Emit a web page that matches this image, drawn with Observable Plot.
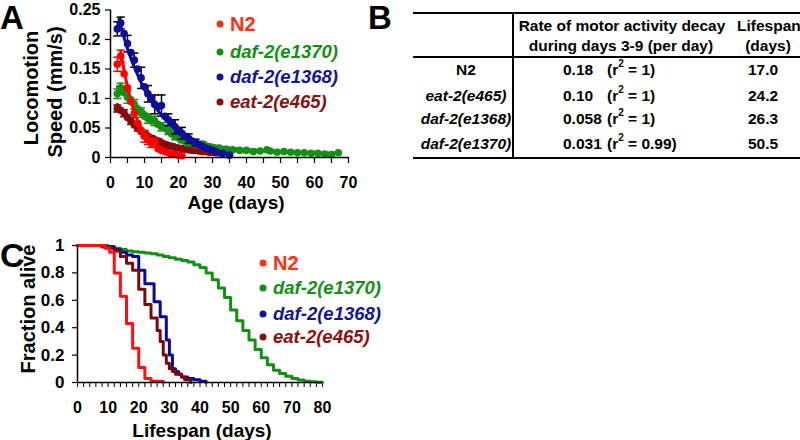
<!DOCTYPE html>
<html><head><meta charset="utf-8">
<script src="https://cdn.jsdelivr.net/npm/d3@7"></script>
<script src="https://cdn.jsdelivr.net/npm/@observablehq/plot@0.6"></script>
<style>
body{margin:0;background:#fff;}
#fig{position:relative;width:800px;height:440px;overflow:hidden;background:#fff;font-family:"Liberation Sans",Arial,sans-serif;font-weight:bold;color:#000;}
.panel{position:absolute;}
#overlay{position:absolute;left:0;top:0;pointer-events:none;}
.leg{position:absolute;white-space:nowrap;line-height:1;transform:translateY(-50%);}
.dot{position:absolute;width:7px;height:7px;border-radius:50%;transform:translate(-50%,-50%);}
</style></head><body><div id="fig"></div>
<script>
// ---------- Panel A data: locomotion speed (mm/s) vs age (days) ----------
const ageN2   = [2,3,4,5,6,7,8,9,10,11,12,13,14,15,16,17,18,19,20,21];
const speedN2 = [0.158,0.172,0.142,0.118,0.095,0.075,0.058,0.046,0.036,0.030,0.024,0.026,0.015,0.012,0.010,0.008,0.006,0.005,0.004,0.003];
const fitAgeN2 = [3,4,5,6,7,8,9,10,12,14,16,18,21];
const fitN2    = [0.180,0.148,0.120,0.097,0.078,0.062,0.050,0.040,0.026,0.017,0.011,0.007,0.004];
const errAgeN2 = [2,3,10,11,12,13];
const errN2    = [0.012,0.010,0.010,0.008,0.007,0.006];

const ageE1370   = [2,3,4,5,6,7,8,9,10,11,12,13,14,15,16,17,18,19,20,21,22,23,24,25,26,27,28,29,30,32,34,36,38,40,42,44,46,47,49,51,53,55,57,59,61,63,65,67];
const speedE1370 = [0.108,0.118,0.110,0.102,0.098,0.090,0.082,0.076,0.070,0.066,0.062,0.062,0.056,0.052,0.050,0.045,0.040,0.036,0.033,0.030,0.027,0.025,0.024,0.022,0.021,0.023,0.019,0.018,0.017,0.016,0.014,0.013,0.012,0.012,0.010,0.011,0.013,0.011,0.009,0.010,0.009,0.008,0.008,0.007,0.007,0.006,0.005,0.008];
const fitAgeE1370 = [2,4,6,8,10,12,14,16,18,20,23,26,30,35,40,50,60,67];
const fitE1370    = [0.120,0.108,0.097,0.087,0.077,0.068,0.060,0.052,0.045,0.039,0.032,0.026,0.021,0.016,0.013,0.010,0.008,0.007];
const errAgeE1370 = [2,3,5,7,9,11,13,15,17,19,21,23,25,27];
const errE1370    = [0.008,0.008,0.010,0.008,0.008,0.008,0.008,0.007,0.006,0.006,0.005,0.005,0.004,0.004];

const ageE1368   = [2,3,4,5,6,7,8,9,10,11,12,13,14,15,16,17,18,19,20,21,22,23,24,25,26,27,28,29,30,31,33,35];
const speedE1368 = [0.218,0.228,0.210,0.193,0.178,0.165,0.150,0.135,0.120,0.108,0.100,0.090,0.086,0.088,0.070,0.064,0.058,0.052,0.046,0.041,0.036,0.032,0.028,0.025,0.022,0.019,0.016,0.014,0.012,0.010,0.007,0.004];
const fitAgeE1368 = [2.5,4,6,8,10,12,14,16,18,20,22,25,28,31,35];
const fitE1368    = [0.235,0.203,0.168,0.140,0.115,0.095,0.079,0.065,0.054,0.045,0.037,0.027,0.018,0.012,0.005];
const errAgeE1368 = [2,3,5,7,9,11,13,15,17,19,21,23,25];
const errE1368    = [0.012,0.010,0.014,0.012,0.018,0.014,0.016,0.018,0.010,0.012,0.010,0.008,0.006];

const ageE465   = [2,3,4,5,6,7,8,9,10,11,12,13,14,15,16,17,18,19,20,21,22,23,24,25,26,27,28,29,30,31,32,33];
const speedE465 = [0.083,0.080,0.075,0.068,0.062,0.055,0.050,0.044,0.040,0.035,0.032,0.030,0.028,0.025,0.022,0.020,0.019,0.017,0.016,0.015,0.014,0.013,0.012,0.012,0.011,0.010,0.010,0.009,0.009,0.008,0.008,0.007];
const fitAgeE465 = [2,4,6,8,10,12,14,16,18,20,22,25,28,33];
const fitE465    = [0.090,0.077,0.065,0.054,0.045,0.037,0.031,0.026,0.022,0.018,0.016,0.013,0.011,0.008];
const errAgeE465 = [2,4,6,8,10,12,14,16,18,20];
const errE465    = [0.006,0.006,0.006,0.005,0.005,0.005,0.004,0.004,0.004,0.003];

const yTicksA = [0,0.05,0.1,0.15,0.2,0.25];
const xLabelsA = [0,10,20,30,40,50,60,70];

// ---------- Panel B data: table ----------
const strains   = ["N2","eat-2(e465)","daf-2(e1368)","daf-2(e1370)"];
const decayRate = ["0.18","0.10","0.058","0.031"];
const rSquared  = ["1","1","1","0.99"];
const lifespans = ["17.0","24.2","26.3","50.5"];

// ---------- Panel C data: survival (fraction alive vs lifespan days) ----------
const dayN2   = [0,9,10.5,12,14,16,18,20,22,24,28];
const fracN2  = [1,0.98,0.95,0.80,0.63,0.43,0.25,0.11,0.03,0.01,0];
const dayS1368  = [0,8,12,14,16,18,20,22,25,27,29,30,31,32,33,34,36,38,40,42];
const fracS1368 = [1,0.99,0.97,0.95,0.93,0.92,0.82,0.72,0.59,0.48,0.31,0.20,0.10,0.08,0.06,0.04,0.03,0.02,0.01,0];
const dayS465   = [0,8,10,12,14,16,18,20,22,24,26,27,28,29,30,31,32,34,35,37];
const fracS465  = [1,0.99,0.98,0.96,0.92,0.87,0.82,0.68,0.57,0.47,0.38,0.30,0.20,0.14,0.10,0.08,0.06,0.04,0.02,0];
const dayS1370  = [0,10,12,14,16,18,20,22,24,26,28,30,32,34,36,38,40,42,44,46,48,50,52,54,56,58,60,62,64,66,68,70,72,74,76,78,80];
const fracS1370 = [1,0.99,0.98,0.97,0.96,0.955,0.95,0.945,0.94,0.93,0.92,0.91,0.90,0.89,0.88,0.86,0.84,0.80,0.75,0.69,0.62,0.53,0.45,0.38,0.31,0.24,0.18,0.13,0.09,0.065,0.045,0.03,0.018,0.01,0.005,0.002,0];
const yTicksC = [0,0.2,0.4,0.6,0.8,1];
const xLabelsC = [0,10,20,30,40,50,60,70,80];

const legendNames = ["N2","daf-2(e1370)","daf-2(e1368)","eat-2(e465)"];
const colA = {N2:"#ff0000", e1370:"#149014", e1368:"#0e0e99", e465:"#880a0a"};
const legendText = ["#ff3010","#149014","#14149a","#8a1010"];

// ---------- helpers ----------
const zipPts = (xs, ys) => xs.map((x,i)=>({x, y: ys[i]}));
const zipErr = (xs, es, axs, ays) => xs.map((x,i)=>{ const v = ays[axs.indexOf(x)]; return {x, lo: v-es[i], hi: v+es[i]}; });
const font = '"Liberation Sans", Arial, sans-serif';
const fig = document.getElementById("fig");

function seriesMarks(ages, speeds, fa, fv, ea, ev, color, errColor){
  const pts = zipPts(ages, speeds), fit = zipPts(fa, fv), err = zipErr(ea, ev, ages, speeds);
  return [
    Plot.ruleX(err, {x:"x", y1:"lo", y2:"hi", stroke: errColor, strokeWidth:1.5}),
    Plot.link(err, {x1: d=>d.x-1.2, x2: d=>d.x+1.2, y1:"hi", y2:"hi", stroke: errColor, strokeWidth:1.5}),
    Plot.link(err, {x1: d=>d.x-1.2, x2: d=>d.x+1.2, y1:"lo", y2:"lo", stroke: errColor, strokeWidth:1.5}),
    Plot.line(fit, {x:"x", y:"y", stroke: color, strokeWidth: 3, curve:"natural"}),
    Plot.dot(pts, {x:"x", y:"y", r:3.8, fill: color, stroke: "none"})
  ];
}

// ---------- Panel A ----------
const plotA = Plot.plot({
  width: 360, height: 215,
  marginLeft: 110, marginRight: 12, marginTop: 9.5, marginBottom: 58,
  x: {domain:[0,70]}, y: {domain:[0,0.25]},
  style: {fontFamily: font, fontSize:"16px", fontWeight:"bold", color:"#000", background:"transparent", overflow:"visible"},
  marks: [
    Plot.axisX({ticks: d3.range(0,71,5), tickFormat: d => xLabelsA.includes(d) ? String(d) : "", tickSize:6, tickPadding:13, label:null, strokeWidth:1.2}),
    Plot.axisY({ticks: yTicksA, tickFormat: d => String(d), tickSize:5, tickPadding:5, label:null, strokeWidth:1.2}),
    ...seriesMarks(ageE465, speedE465, fitAgeE465, fitE465, errAgeE465, errE465, colA.e465, colA.e465),
    ...seriesMarks(ageE1370, speedE1370, fitAgeE1370, fitE1370, errAgeE1370, errE1370, colA.e1370, colA.e1370),
    ...seriesMarks(ageN2, speedN2, fitAgeN2, fitN2, errAgeN2, errN2, colA.N2, colA.N2),
    ...seriesMarks(ageE1368, speedE1368, fitAgeE1368, fitE1368, errAgeE1368, errE1368, colA.e1368, "#000"),
    Plot.ruleX([0], {stroke:"#000", strokeWidth:1.5}),
    Plot.ruleY([0], {stroke:"#000", strokeWidth:1.5})
  ]
});
plotA.classList.add("panel"); plotA.style.left="0px"; plotA.style.top="0px";
fig.appendChild(plotA);

// ---------- Panel C ----------
const colC = {N2:"#ff1010", e1370:"#129012", e1368:"#0a0a9a", e465:"#7a0a0a"};
const plotC = Plot.plot({
  width: 340, height: 220,
  marginLeft: 77, marginRight: 18, marginTop: 25, marginBottom: 58,
  x: {domain:[0,80]}, y: {domain:[0,1]},
  style: {fontFamily: font, fontSize:"16px", fontWeight:"bold", color:"#000", background:"transparent", overflow:"visible"},
  marks: [
    Plot.axisX({ticks: d3.range(0,81,2), tickFormat: d => xLabelsC.includes(d) ? String(d) : "", tickSize:5, tickPadding:14, label:null, strokeWidth:1}),
    Plot.axisY({ticks: yTicksC, tickFormat: d => String(d), tickSize:5, tickPadding:8, label:null, fontSize:17, strokeWidth:1.2}),
    Plot.line(zipPts(dayS1370, fracS1370), {x:"x", y:"y", stroke: colC.e1370, strokeWidth:3, curve:"step-after"}),
    Plot.line(zipPts(dayS1368, fracS1368), {x:"x", y:"y", stroke: colC.e1368, strokeWidth:3, curve:"step-after"}),
    Plot.line(zipPts(dayS465, fracS465), {x:"x", y:"y", stroke: colC.e465, strokeWidth:3, curve:"step-after"}),
    Plot.line(zipPts(dayN2, fracN2), {x:"x", y:"y", stroke: colC.N2, strokeWidth:3, curve:"step-after"}),
    Plot.ruleX([0], {stroke:"#000", strokeWidth:1.5}),
    Plot.ruleY([0], {stroke:"#000", strokeWidth:1.5})
  ]
});
plotC.classList.add("panel"); plotC.style.left="0px"; plotC.style.top="220px";
fig.appendChild(plotC);

// ---------- Legends ----------
function legend(dotX, textX, ys, size){
  legendNames.forEach((name,i)=>{
    const dot = document.createElement("div");
    dot.className = "dot"; dot.style.left = dotX+"px"; dot.style.top = ys[i]+"px";
    dot.style.background = legendText[i];
    fig.appendChild(dot);
    const t = document.createElement("div");
    t.className = "leg"; t.textContent = name;
    t.style.left = textX+"px"; t.style.top = ys[i]+"px"; t.style.color = legendText[i];
    t.style.fontSize = (i===0 ? 20 : size)+"px";
    t.style.fontStyle = i===0 ? "normal" : "italic";
    fig.appendChild(t);
  });
}
legend(220, 230, [24,52,77,102], 18.5);
legend(263, 273, [263,288,314,337], 18.5);

// ---------- Overlay: panel letters, titles, table ----------
const svg = d3.select(fig).append("svg").attr("id","overlay").attr("width",800).attr("height",440)
  .style("font-family", font).style("font-weight","bold");
const txt = (x,y,s,size,anchor="middle",rot=false) => {
  const t = svg.append("text").attr("x",x).attr("y",y).attr("font-size",size)
    .attr("text-anchor",anchor).attr("dominant-baseline","central").text(s);
  if (rot) t.attr("transform",`rotate(-90 ${x} ${y})`);
  return t;
};
svg.append("text").attr("x",0).attr("y",29).attr("font-size",33).text("A");
svg.append("text").attr("x",368).attr("y",29).attr("font-size",33).text("B");
svg.append("text").attr("x",0).attr("y",267).attr("font-size",34).text("C");
txt(31,88,"Locomotion",20,"middle",true);
txt(55,92,"Speed (mm/s)",20,"middle",true);
txt(236,202,"Age (days)",19);
txt(28,309,"Fraction alive",20,"middle",true);
txt(202,430,"Lifespan (days)",19);

// table lines
const L = (x1,y1,x2,y2)=>svg.append("line").attr("x1",x1).attr("y1",y1).attr("x2",x2).attr("y2",y2).attr("stroke","#000").attr("stroke-width",2);
L(413,13,800,13); L(413,57,800,57); L(413,158,800,158); L(513,12,513,159);
txt(622,25,"Rate of motor activity decay",15.5);
txt(621,45,"during days 3-9 (per day)",15.5);
txt(737,25,"Lifespan",15.5,"start");
txt(768,45,"(days)",15.5);
const rowY = [69,95,118,143];
strains.forEach((s,i)=>{
  txt(466,rowY[i],s,15.5).attr("font-style", i===0 ? "normal" : "italic");
  txt(563,rowY[i],decayRate[i],15.5,"start");
  const t = txt(607,rowY[i],"",15.5,"start");
  t.append("tspan").text("(r");
  t.append("tspan").attr("font-size",10).attr("dy",-6).text("2");
  t.append("tspan").attr("dy",6).text(" = " + rSquared[i] + ")");
  txt(763,rowY[i],lifespans[i],15.5);
});
</script></body></html>
